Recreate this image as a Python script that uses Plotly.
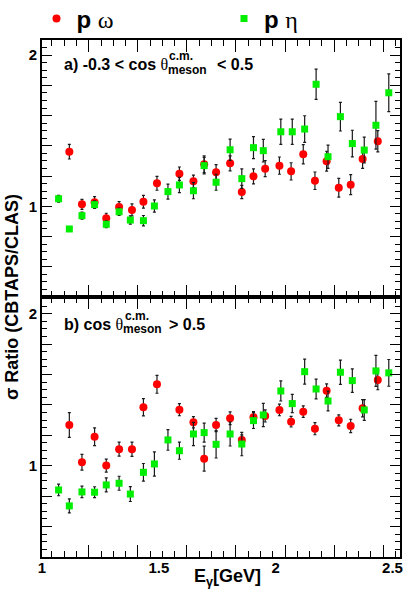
import plotly.graph_objects as go

# ---------------- data ----------------
x_omega = [1.117, 1.171, 1.225, 1.275, 1.33, 1.385, 1.434, 1.492, 1.588, 1.648, 1.694, 1.745,
           1.805, 1.855, 1.905, 1.955, 2.016, 2.066, 2.118, 2.168, 2.218, 2.27, 2.321, 2.372, 2.437]
x_eta = [1.071, 1.117, 1.171, 1.225, 1.275, 1.33, 1.378, 1.434, 1.481, 1.539, 1.588, 1.648, 1.694,
         1.745, 1.805, 1.855, 1.905, 1.947, 2.022, 2.071, 2.124, 2.173, 2.224, 2.277, 2.328, 2.379,
         2.429, 2.484]

# panel a) -0.3 < cos theta < 0.5
a_omega = [1.361, 1.013, 1.026, 0.921, 0.995, 0.976, 1.03, 1.152, 1.216, 1.165, 1.278, 1.225,
           1.284, 1.095, 1.198, 1.249, 1.269, 1.231, 1.344, 1.169, 1.298, 1.123, 1.143, 1.313, 1.43]
a_omega_err = [0.048, 0.033, 0.038, 0.033, 0.036, 0.04, 0.042, 0.046, 0.044, 0.041, 0.055, 0.05,
               0.05, 0.044, 0.05, 0.053, 0.057, 0.057, 0.064, 0.058, 0.066, 0.062, 0.066, 0.062, 0.07]
a_eta = [1.05, 0.85, 0.938, 1.011, 0.881, 0.964, 0.909, 0.905, 1.002, 1.097, 1.141, 1.103, 1.269,
         1.159, 1.374, 1.183, 1.388, 1.368, 1.493, 1.493, 1.511, 1.807, 1.328, 1.593, 1.415, 1.372,
         1.536, 1.751]
a_eta_err = [0.022, 0.015, 0.023, 0.025, 0.022, 0.024, 0.027, 0.034, 0.04, 0.05, 0.05, 0.053, 0.055,
             0.053, 0.07, 0.064, 0.073, 0.075, 0.084, 0.084, 0.088, 0.10, 0.077, 0.095, 0.088, 0.085,
             0.158, 0.125]

# panel b) cos theta > 0.5
b_omega = [1.268, 1.023, 1.191, 1.001, 1.109, 1.109, 1.385, 1.536, 1.369, 1.286, 1.047, 1.268,
           1.313, 1.17, 1.319, 1.328, 1.367, 1.29, 1.356, 1.244, 1.494, 1.299, 1.262, 1.378, 1.564]
b_omega_err = [0.081, 0.052, 0.058, 0.043, 0.046, 0.047, 0.057, 0.059, 0.04, 0.037, 0.082, 0.044,
               0.042, 0.033, 0.038, 0.04, 0.038, 0.035, 0.038, 0.04, 0.044, 0.036, 0.044, 0.057, 0.064]
b_eta = [0.841, 0.736, 0.828, 0.826, 0.874, 0.885, 0.814, 0.957, 1.012, 1.17, 1.099, 1.209, 1.218,
         1.141, 1.209, 1.143, 1.297, 1.334, 1.492, 1.409, 1.619, 1.505, 1.426, 1.615, 1.56, 1.367,
         1.624, 1.611]
b_eta_err = [0.038, 0.046, 0.038, 0.036, 0.046, 0.046, 0.049, 0.058, 0.08, 0.068, 0.056, 0.077, 0.063,
             0.09, 0.079, 0.077, 0.052, 0.077, 0.066, 0.06, 0.082, 0.065, 0.065, 0.08, 0.077, 0.068,
             0.102, 0.088]

x_tick_vals = [1, 1.5, 2, 2.5]
x_tick_text = ["1", "1.5", "2", "2.5"]
y_tick_vals = [0.4, 0.6, 0.8, 1.0, 1.2, 1.4, 1.6, 1.8, 2.0]
y_tick_text = ["", "", "", "1", "", "", "", "", "2"]

# ---------------- layout geometry ----------------
W, H = 405, 590
ML, MR, MT, MB = 42, 5, 40, 33
PW, PH = W - ML - MR, H - MT - MB
SPLIT = 260 / PH

def px(x):
    return (x - ML) / PW

def py(y):
    return (H - MB - y) / PH

FONT = "Liberation Sans"
RED = "#ff0000"
GREEN = "#00ee00"
ERRC = "#1a1a1a"

fig = go.Figure()

def add(xv, yv, ev, color, symbol, size, name, xa, ya, show, leg):
    fig.add_trace(go.Scatter(
        x=xv, y=yv, mode="markers", name=name, showlegend=show, legend=leg,
        marker=dict(color=color, symbol=symbol, size=size, line=dict(width=0)),
        error_y=dict(type="data", array=ev, visible=True, color=ERRC, thickness=1.2, width=1.5),
        xaxis=xa, yaxis=ya))

om_name = "<b>p</b> <span style='font-family:Liberation Serif;font-weight:normal'>ω</span>"
eta_name = "<b>p</b> <span style='font-family:Liberation Serif;font-weight:normal'>η</span>"

add(x_omega, a_omega, a_omega_err, RED, "circle", 8, om_name, "x2", "y2", True, "legend")
add(x_eta, a_eta, a_eta_err, GREEN, "square", 7, eta_name, "x2", "y2", True, "legend2")
add(x_omega, b_omega, b_omega_err, RED, "circle", 8, om_name, "x", "y", False, "legend")
add(x_eta, b_eta, b_eta_err, GREEN, "square", 7, eta_name, "x", "y", False, "legend2")

xcommon = dict(range=[1.0, 2.532], showline=True, linewidth=2, linecolor="black", mirror="ticks",
               ticks="inside", tick0=1.2, dtick=0.21, ticklen=12, tickwidth=1, tickcolor="black",
               showticklabels=False, showgrid=False, zeroline=False,
               minor=dict(ticks="inside", tick0=1.2, dtick=0.0525, ticklen=6, tickwidth=1,
                          tickcolor="black", showgrid=False))
ycommon = dict(showline=True, linewidth=2, linecolor="black", mirror="ticks",
               ticks="inside", tickmode="array", tickvals=y_tick_vals, ticktext=y_tick_text,
               ticklen=10, tickwidth=1, tickcolor="black", showgrid=False, zeroline=False,
               tickfont=dict(family=FONT, size=15, color="black", weight="bold"),
               minor=dict(ticks="inside", tick0=0.4, dtick=0.05, ticklen=5, tickwidth=1,
                          tickcolor="black", showgrid=False))

fig.update_layout(
    width=W, height=H, margin=dict(l=ML, r=MR, t=MT, b=MB, autoexpand=False),
    paper_bgcolor="white", plot_bgcolor="white",
    font=dict(family=FONT, color="black"),
    xaxis=dict(anchor="y", domain=[0, 1], **xcommon),
    xaxis2=dict(anchor="y2", domain=[0, 1], matches="x", **xcommon),
    xaxis3=dict(overlaying="x", anchor="y", matches="x", range=[1.0, 2.532], tickmode="array",
                tickvals=x_tick_vals, ticktext=x_tick_text, ticks="", showline=False,
                showgrid=False, zeroline=False,
                tickfont=dict(family=FONT, size=15, color="black", weight="bold")),
    yaxis=dict(anchor="x", domain=[0, SPLIT], range=[0.4, 2.11], **ycommon),
    yaxis2=dict(anchor="x2", domain=[SPLIT, 1], range=[0.4, 2.1], **ycommon),
    legend=dict(orientation="h", xref="container", yref="container",
                x=22 / W, y=1 - 19 / H, xanchor="left", yanchor="middle", indentation=14.5,
                font=dict(family=FONT, size=24, color="black"), bgcolor="rgba(0,0,0,0)"),
    legend2=dict(orientation="h", xref="container", yref="container",
                 x=224 / W, y=1 - 19 / H, xanchor="left", yanchor="middle",
                 font=dict(family=FONT, size=24, color="black"), bgcolor="rgba(0,0,0,0)"),
)
# empty trace to activate the label axis xaxis3
fig.add_trace(go.Scatter(x=[None], y=[None], xaxis="x3", yaxis="y", showlegend=False))

def ann(text, x, y, size, xanchor="left", angle=0, family=FONT):
    fig.add_annotation(text=text, x=px(x), y=py(y), xref="paper", yref="paper",
                       xanchor=xanchor, yanchor="middle", showarrow=False, textangle=angle,
                       font=dict(family=family, size=size, color="black"))

THETA = "<span style='font-family:Liberation Serif'>θ</span>"
# panel a label
ann("<b>a) -0.3 &lt; cos </b>" + THETA, 62, 65, 16)
ann("<b>c.m.</b>", 167, 56, 12)
ann("<b>meson</b>", 166, 70, 12)
ann("<b>&lt; 0.5</b>", 215, 65, 16)
# panel b label
ann("<b>b) cos </b>" + THETA, 62, 324, 16)
ann("<b>c.m.</b>", 123, 316, 12)
ann("<b>meson</b>", 121, 329, 12)
ann("<b>&gt; 0.5</b>", 167, 324, 16)

# axis titles
ann("<b>σ Ratio (CBTAPS/CLAS)</b>", 12, 297, 18, xanchor="center", angle=-90)
ann("<b>E<sub>γ</sub>[GeV]</b>", 227, 577, 18, xanchor="center")

fig.write_html("out.html", config={"displayModeBar": False},
               post_script="document.body.style.margin='0';")
